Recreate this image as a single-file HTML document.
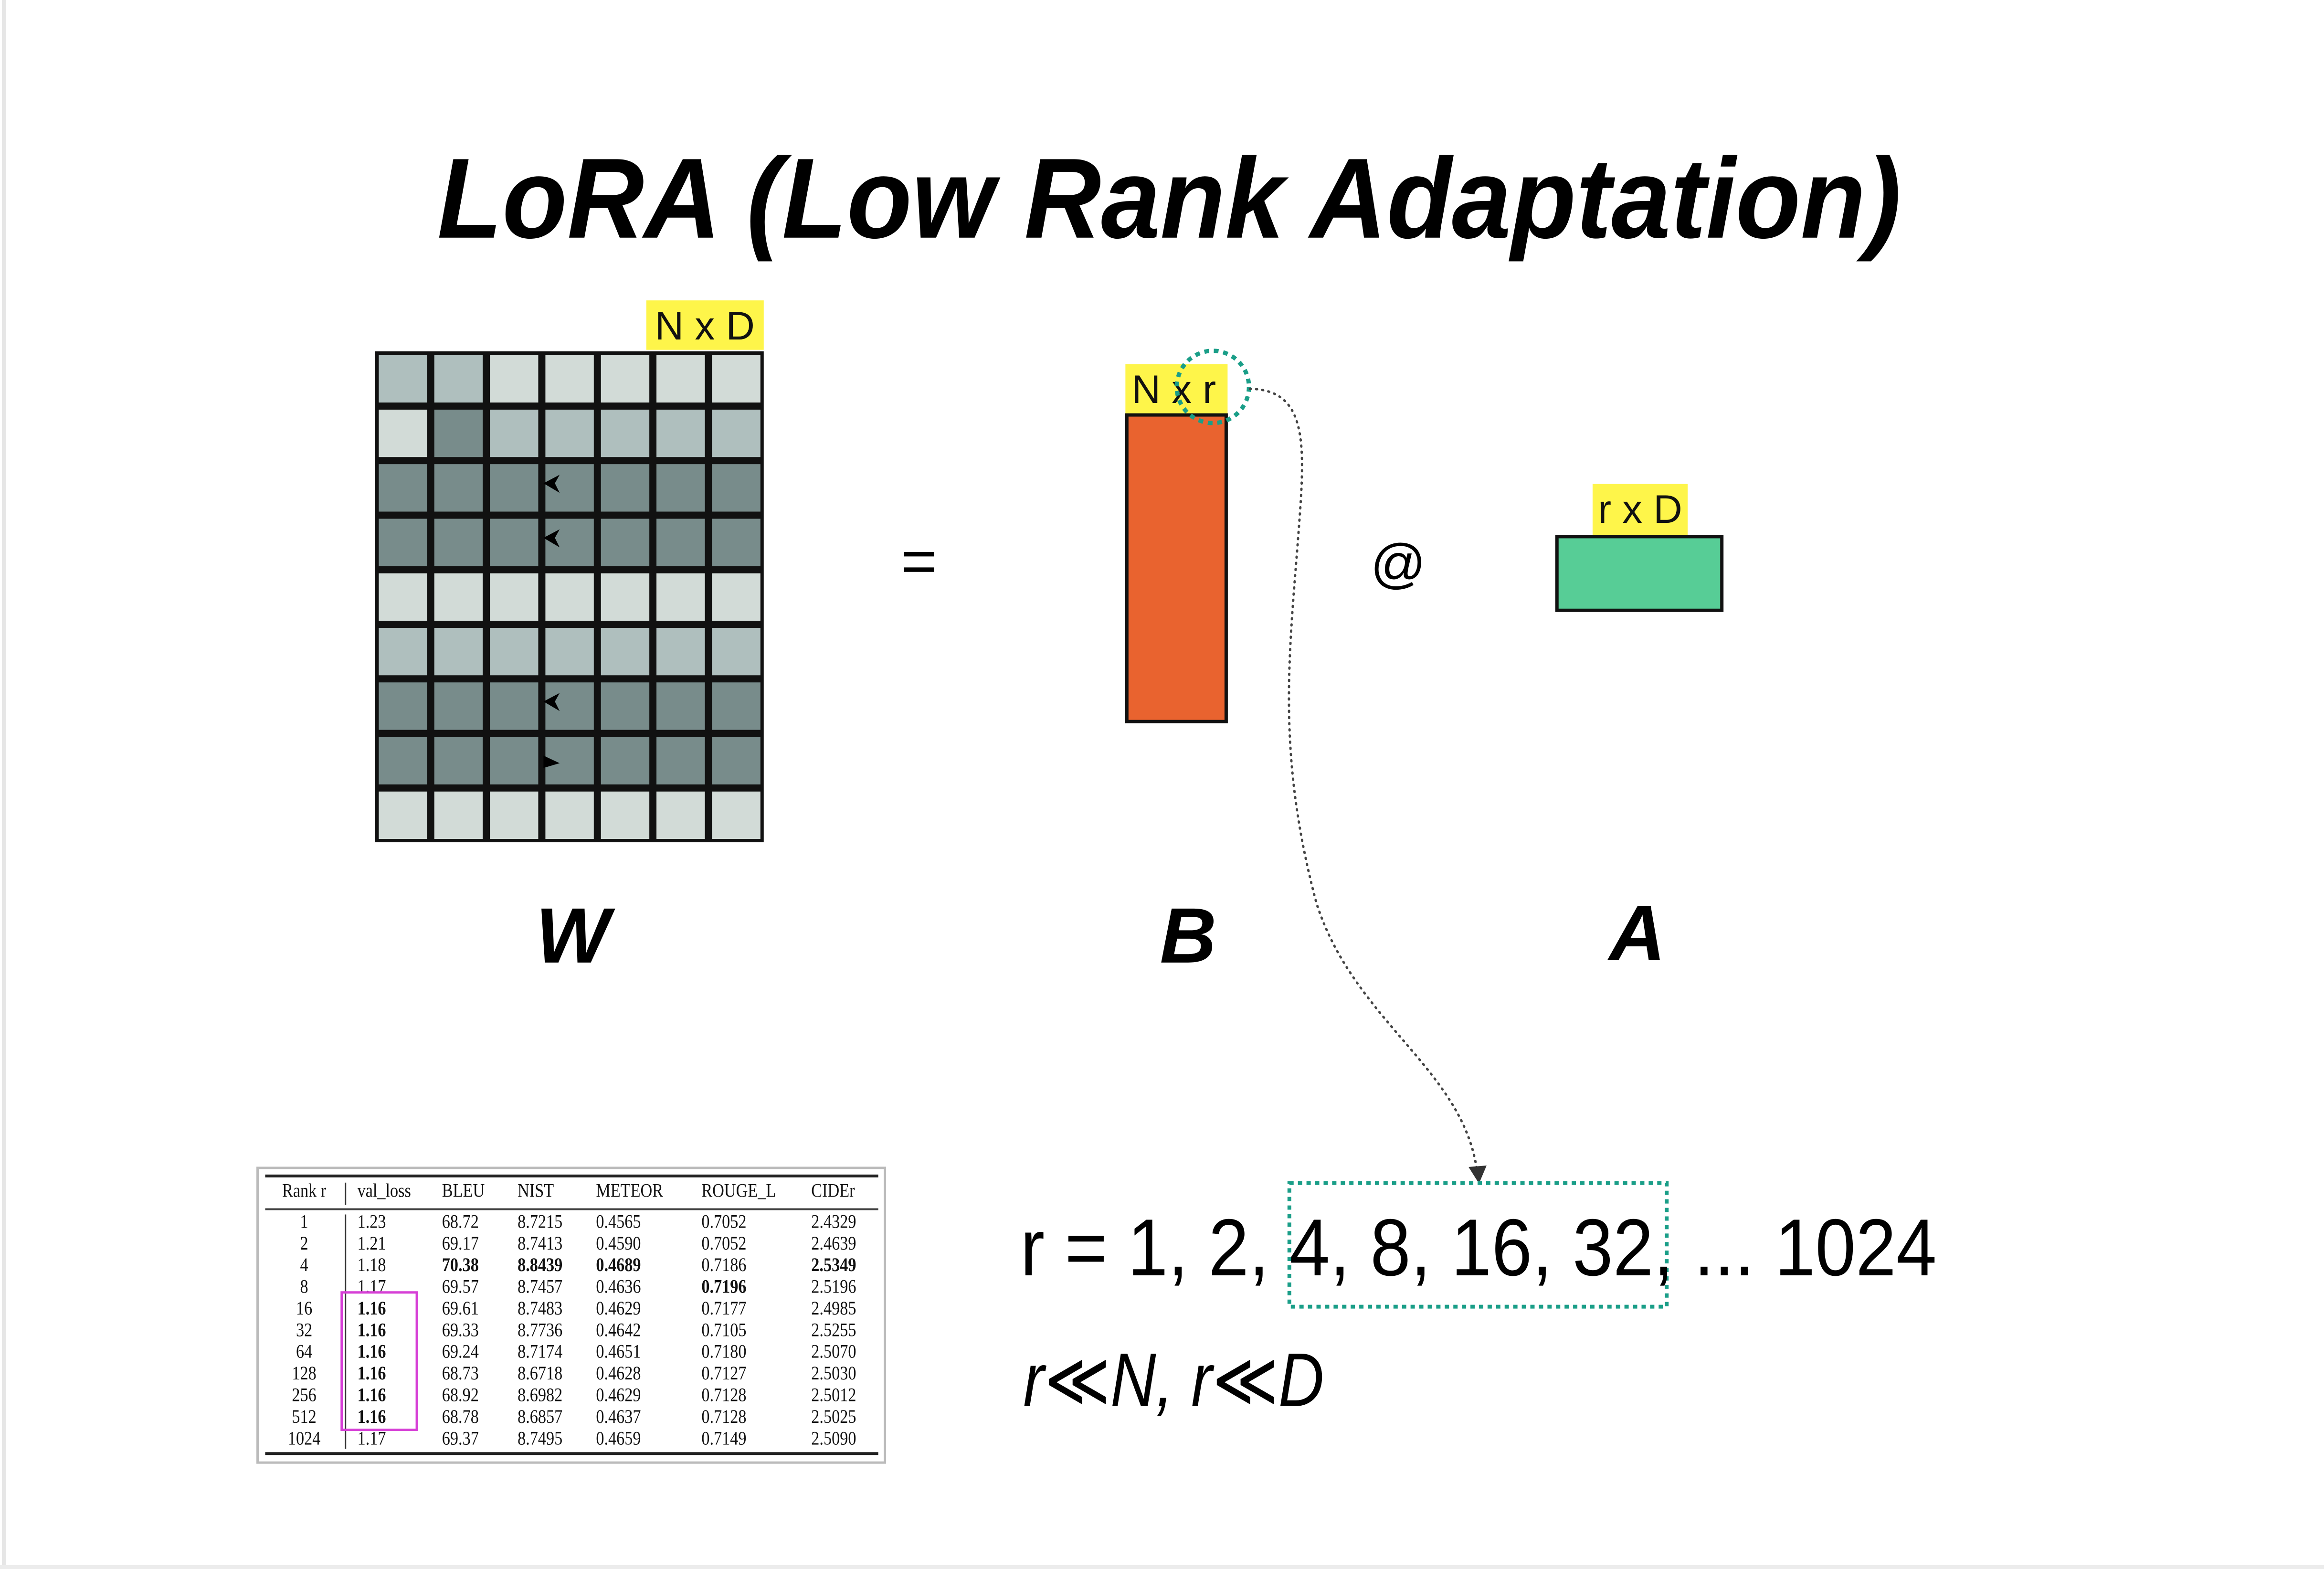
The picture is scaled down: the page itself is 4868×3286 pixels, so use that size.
<!DOCTYPE html>
<html><head><meta charset="utf-8"><style>
html,body{margin:0;padding:0;background:#fff;}
svg{display:block;}
</style></head><body>
<svg width="4868" height="3286" viewBox="0 0 4868 3286" xmlns="http://www.w3.org/2000/svg">
<rect x="0" y="0" width="4868" height="3286" fill="#fff"/>
<line x1="8" y1="0" x2="8" y2="3286" stroke="#e6e6e6" stroke-width="8"/>
<line x1="0" y1="3282" x2="4868" y2="3282" stroke="#ececec" stroke-width="8"/>
<g transform="scale(0.9955)">
<text x="920" y="500" font-family="Liberation Sans, sans-serif" font-weight="bold" font-style="italic" font-size="240" textLength="3080" lengthAdjust="spacingAndGlyphs" fill="#000">LoRA (Low Rank Adaptation)</text>

<!-- Grid W -->
<g id="grid">
<rect x="789" y="739" width="818" height="1033" fill="#111"/>
</g>

<rect x="1360" y="632" width="247" height="104" fill="#fef54a"/>
<text x="1483" y="714" text-anchor="middle" font-family="Liberation Sans, sans-serif" font-size="84" fill="#111">N x D</text>

<text x="1934" y="1225" text-anchor="middle" font-family="Liberation Sans, sans-serif" font-size="130" fill="#000">=</text>

<!-- B -->
<rect x="2368" y="766" width="215" height="106" fill="#fef54a"/>
<text x="2470" y="848" text-anchor="middle" font-family="Liberation Sans, sans-serif" font-size="84" fill="#111">N x r</text>
<rect x="2371" y="873" width="209" height="645" fill="#e9632f" stroke="#111" stroke-width="7"/>
<circle cx="2552" cy="814" r="76" fill="none" stroke="#1a9e88" stroke-width="9" stroke-dasharray="10 10"/>

<text x="2942" y="1225" text-anchor="middle" font-family="Liberation Sans, sans-serif" font-size="115" fill="#000">@</text>

<!-- A -->
<rect x="3351" y="1018" width="200" height="108" fill="#fef54a"/>
<text x="3451" y="1100" text-anchor="middle" font-family="Liberation Sans, sans-serif" font-size="84" fill="#111">r x D</text>
<rect x="3276" y="1129" width="347" height="155" fill="#57cd96" stroke="#111" stroke-width="7"/>

<g font-family="Liberation Sans, sans-serif" font-weight="bold" font-style="italic" font-size="165" fill="#000" text-anchor="middle">
<text x="1205" y="2025">W</text>
<text x="2500" y="2025">B</text>
<text x="3445" y="2020">A</text>
</g>

<!-- dotted connector -->
<path d="M2630 818 C2760 820 2745 950 2730 1150 C2710 1400 2690 1600 2770 1900 C2850 2150 3080 2250 3108 2465" fill="none" stroke="#444" stroke-width="5" stroke-dasharray="2 11" stroke-linecap="round"/>
<path d="M3090 2455 L3112 2490 L3128 2452 Z" fill="#333"/>

<rect x="2713" y="2489" width="794" height="260" fill="none" stroke="#1a9e88" stroke-width="8" stroke-dasharray="9 9"/>

<text x="2147" y="2683" font-family="Liberation Sans, sans-serif" font-size="170" textLength="1928" lengthAdjust="spacingAndGlyphs" fill="#000">r = 1, 2, 4, 8, 16, 32, ... 1024</text>
<text x="2153" y="2958" font-family="Liberation Sans, DejaVu Sans, sans-serif" font-style="italic" font-size="160" textLength="633" lengthAdjust="spacingAndGlyphs" fill="#000">r≪N, r≪D</text>

<!-- table -->
<rect x="542" y="2457" width="1320" height="620" fill="#fff" stroke="#bbb" stroke-width="5"/>
<line x1="558" y1="2474" x2="1848" y2="2474" stroke="#222" stroke-width="6"/>
<line x1="558" y1="2544" x2="1848" y2="2544" stroke="#444" stroke-width="4"/>
<line x1="558" y1="3058" x2="1848" y2="3058" stroke="#222" stroke-width="6"/>
<line x1="727" y1="2488" x2="727" y2="2535" stroke="#333" stroke-width="3"/>
<line x1="727" y1="2555" x2="727" y2="3048" stroke="#333" stroke-width="3"/>
<g id="tbl" font-family="Liberation Serif, serif" font-size="40" fill="#111"></g>
<rect x="719" y="2719" width="158" height="289" fill="none" stroke="#d63fd6" stroke-width="5"/>
</g>
<script>
(function(){
var g=document.getElementById('grid');
var L='#d2dbd7',M='#afbfbe',D='#788c8b';
var rows=[[M,M,L,L,L,L,L],[L,D,M,M,M,M,M],[D,D,D,D,D,D,D],[D,D,D,D,D,D,D],[L,L,L,L,L,L,L],[M,M,M,M,M,M,M],[D,D,D,D,D,D,D],[D,D,D,D,D,D,D],[L,L,L,L,L,L,L]];
var x0=789,y0=739,cw=818/7,ch=1033/9,ns='http://www.w3.org/2000/svg';
for(var r=0;r<9;r++)for(var c=0;c<7;c++){var e=document.createElementNS(ns,'rect');
e.setAttribute('x',x0+c*cw+8);e.setAttribute('y',y0+r*ch+8);e.setAttribute('width',cw-15);e.setAttribute('height',ch-15);e.setAttribute('fill',rows[r][c]);g.appendChild(e);}
var ax=x0+3*cw+4;
[2,3,6].forEach(function(r){var p=document.createElementNS(ns,'path');var cy=y0+r*ch+ch*0.42;
p.setAttribute('d','M'+ax+' '+cy+' L'+(ax+34)+' '+(cy-18)+' L'+(ax+24)+' '+cy+' L'+(ax+34)+' '+(cy+20)+' Z');p.setAttribute('fill','#000');g.appendChild(p);});
var p=document.createElementNS(ns,'path');var cy=y0+7*ch+ch*0.55;
p.setAttribute('d','M'+ax+' '+(cy-16)+' L'+(ax+34)+' '+cy+' L'+ax+' '+(cy+10)+' Z');p.setAttribute('fill','#000');g.appendChild(p);

var tg=document.getElementById('tbl');
function t(x,y,s,bold,anchor){var e=document.createElementNS(ns,'text');e.setAttribute('x',x);e.setAttribute('y',y);if(bold)e.setAttribute('font-weight','bold');if(anchor)e.setAttribute('text-anchor',anchor);e.textContent=s;e.setAttribute('transform','translate('+x+' 0) scale(0.86 1) translate('+(-x)+' 0)');tg.appendChild(e);}
var cols=[752,930,1089,1254,1476,1707];
t(640,2518,'Rank r',0,'middle');
['val_loss','BLEU','NIST','METEOR','ROUGE_L','CIDEr'].forEach(function(h,i){t(cols[i],2518,h);});
var data=[['1','1.23','68.72','8.7215','0.4565','0.7052','2.4329'],['2','1.21','69.17','8.7413','0.4590','0.7052','2.4639'],['4','1.18','*70.38','*8.8439','*0.4689','0.7186','*2.5349'],['8','1.17','69.57','8.7457','0.4636','*0.7196','2.5196'],['16','*1.16','69.61','8.7483','0.4629','0.7177','2.4985'],['32','*1.16','69.33','8.7736','0.4642','0.7105','2.5255'],['64','*1.16','69.24','8.7174','0.4651','0.7180','2.5070'],['128','*1.16','68.73','8.6718','0.4628','0.7127','2.5030'],['256','*1.16','68.92','8.6982','0.4629','0.7128','2.5012'],['512','*1.16','68.78','8.6857','0.4637','0.7128','2.5025'],['1024','1.17','69.37','8.7495','0.4659','0.7149','2.5090']];
data.forEach(function(row,r){var y=2583+r*45.6;t(640,y,row[0],0,'middle');
for(var i=1;i<7;i++){var s=row[i],b=s[0]=='*';t(cols[i-1],y,b?s.slice(1):s,b);}});
})();
</script>
</svg>
</body></html>
